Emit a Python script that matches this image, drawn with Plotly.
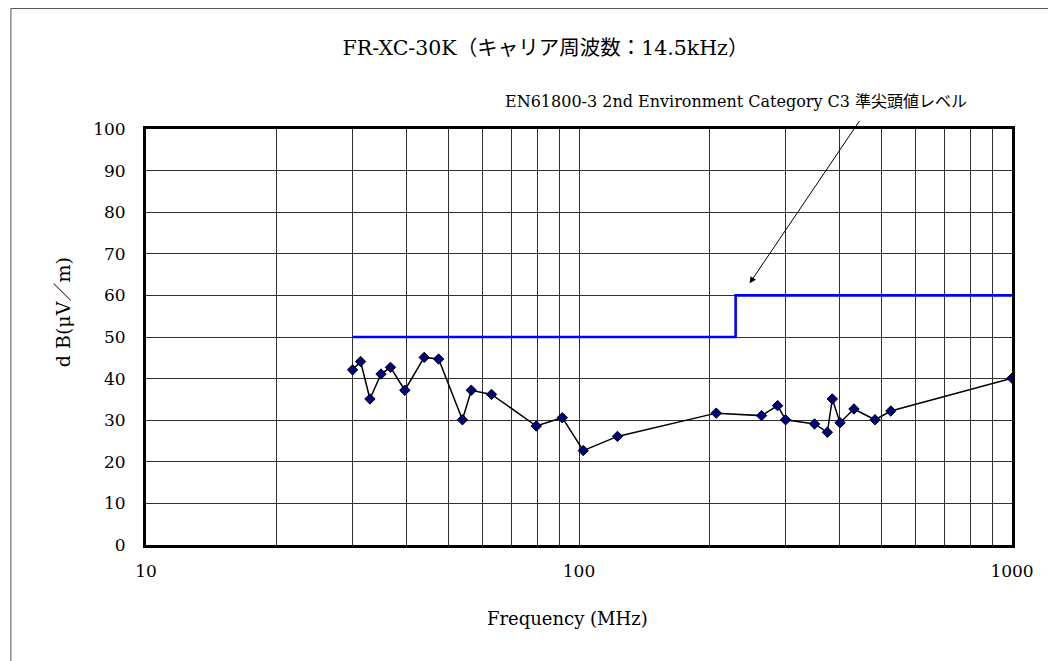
import plotly.graph_objects as go

freq_mhz = [30, 31.3, 32.9, 34.9, 36.7, 39.6, 43.9, 47.4, 53.8, 56.4, 62.8, 79.7, 91.5,
            102.3, 122.7, 207.5, 264, 287.5, 300, 350, 374.6, 384.6, 400.7, 431.5,
            482.6, 525, 1000]
level_db = [42.1, 44.1, 35.1, 41.1, 42.7, 37.2, 45.1, 44.7, 30.1, 37.2, 36.2, 28.6, 30.6,
            22.7, 26.1, 31.7, 31.1, 33.5, 30.1, 29.1, 27.1, 35.1, 29.4, 32.7,
            30.1, 32.2, 40.1]

limit_freq = [30, 230, 230, 1000]
limit_db = [50, 50, 60, 60]

x_grid_vals = [10, 20, 30, 40, 50, 60, 70, 80, 90, 100, 200, 300, 400, 500, 600, 700, 800, 900, 1000]
x_tick_text = ["10" if v == 10 else "100" if v == 100 else "1000" if v == 1000 else "" for v in x_grid_vals]
y_ticks = list(range(0, 101, 10))

title_text = "FR-XC-30K（キャリア周波数：14.5kHz）"
limit_label = "EN61800-3 2nd Environment Category C3 準尖頭値レベル"
x_title = "Frequency (MHz)"
y_title = "d B(μV／m)"

font_family = "DejaVu Serif, Liberation Serif, Noto Sans CJK JP, serif"

fig = go.Figure()
fig.add_trace(go.Scatter(
    x=limit_freq, y=limit_db, mode="lines",
    line=dict(color="#0000FF", width=2.6), showlegend=False, hoverinfo="skip"))
fig.add_trace(go.Scatter(
    x=freq_mhz, y=level_db, mode="lines+markers",
    line=dict(color="black", width=1.5),
    marker=dict(symbol="diamond", size=8, color="#000080", line=dict(color="black", width=1)),
    showlegend=False))

fig.update_layout(
    width=1056, height=661,
    margin=dict(l=138, r=52, t=121, b=124),
    paper_bgcolor="white", plot_bgcolor="white",
    font=dict(family=font_family, size=17, color="black"),
    title=dict(text=title_text, x=0.509, xanchor="center", y=0.94, yanchor="middle",
               font=dict(family=font_family, size=20.5, color="black")),
    xaxis=dict(
        type="log", range=[1, 3], tickmode="array", tickvals=x_grid_vals, ticktext=x_tick_text,
        showgrid=True, gridcolor="#303030", gridwidth=1,
        showline=True, linecolor="black", linewidth=3, mirror=True,
        ticks="", ticklabelstandoff=9,
        zeroline=False),
    yaxis=dict(
        range=[0, 100], tickmode="array", tickvals=y_ticks,
        showgrid=True, gridcolor="#303030", gridwidth=1,
        showline=True, linecolor="black", linewidth=3, mirror=True,
        ticks="", ticklabelstandoff=14,
        zeroline=False),
)

fig.add_annotation(
    x=2.394, y=62.9, xref="x", yref="y",
    ax=111, ay=-164, axref="pixel", ayref="pixel",
    showarrow=True, arrowhead=2, arrowsize=1.3, arrowwidth=1, arrowcolor="black", text="")
fig.add_annotation(
    x=0.681, y=1.067, xref="paper", yref="paper", text=limit_label, showarrow=False,
    xanchor="center", yanchor="middle", font=dict(family=font_family, size=16, color="black"))
fig.add_annotation(
    x=0.487, y=-0.177, xref="paper", yref="paper", text=x_title, showarrow=False,
    xanchor="center", yanchor="middle", font=dict(family=font_family, size=18, color="black"))
fig.add_annotation(
    x=-0.0956, y=0.56, xref="paper", yref="paper", text=y_title, showarrow=False, textangle=-90,
    xanchor="center", yanchor="middle", font=dict(family=font_family, size=19, color="black"))

fig.add_shape(type="rect", xref="paper", yref="paper",
              x0=-0.156, y0=-1.0, x1=2.0, y1=1.2895,
              line=dict(color="#505050", width=1), fillcolor="rgba(0,0,0,0)", layer="below")

fig.write_html("out.html")
